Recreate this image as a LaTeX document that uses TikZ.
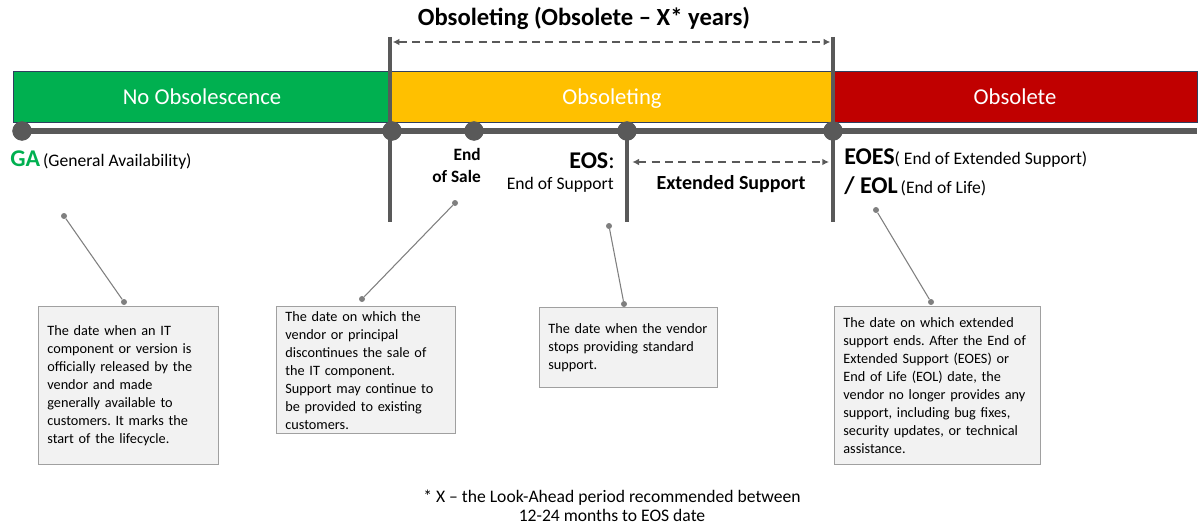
\documentclass[tikz,border=0pt]{standalone}
\usepackage{fontspec}
\setmainfont{Carlito}
\usetikzlibrary{arrows.meta}

\definecolor{nogreen}{HTML}{00B050}
\definecolor{obsyellow}{HTML}{FFC000}
\definecolor{obsred}{HTML}{C00000}
\definecolor{linegray}{HTML}{595959}
\definecolor{pingray}{HTML}{7F7F7F}
\definecolor{boxfill}{HTML}{F2F2F2}
\definecolor{boxline}{HTML}{A0A0A0}
\definecolor{barline}{HTML}{2F3F5F}

\tikzset{
  phase/.style={draw=barline, line width=0.5pt},
  phasetext/.style={text=white, anchor=base, font=\fontsize{17}{20}\selectfont},
  timeline/.style={linegray, line width=4.5pt},
  boundary/.style={linegray, line width=3pt},
  milestone/.style={circle, fill=linegray, inner sep=0pt, minimum size=14.5pt},
  span/.style={linegray, line width=1.5pt, dash pattern=on 6pt off 4pt, {Latex[length=5pt,width=5pt]}-{Latex[length=5pt,width=5pt]}},
  calldot/.style={circle, fill=pingray, inner sep=0pt, minimum size=4.5pt},
  callline/.style={pingray, line width=0.8pt},
  infobox/.style={draw=boxline, fill=boxfill, line width=1pt, anchor=north west, align=left,
    inner xsep=6.5pt, font=\fontsize{10.7}{13.5}\selectfont},
  smalltext/.style={font=\fontsize{13.2}{16}\selectfont},
}
\newcommand{\bigbold}{\bfseries\fontsize{18}{21}\selectfont}
\newcommand{\labelsize}{\mdseries\fontsize{13.2}{16}\selectfont}

\begin{document}
\frenchspacing
\hyphenpenalty=10000
\exhyphenpenalty=10000
\begin{tikzpicture}[x=0.75pt, y=-0.75pt]
  \useasboundingbox (0,0) rectangle (1201,528);

  % phase bars
  \path[phase, fill=nogreen] (13,71) rectangle (390,122);
  \path[phase, fill=obsyellow] (390,71) rectangle (833,122);
  \path[phase, fill=obsred] (833,71) rectangle (1197,122);
  \node[phasetext] (noobs) at (202,104) {No Obsolescence};
  \node[phasetext] (obsing) at (612,104) {Obsoleting};
  \node[phasetext] (obs) at (1015,104) {Obsolete};

  % window above the bars
  \node[font=\bfseries\fontsize{18.5}{22}\selectfont] (title) at (584,18) {Obsoleting (Obsolete -- X* years)};
  \coordinate (obsTop) at (390,37);
  \coordinate (obsBot) at (390,222);
  \coordinate (eoesTop) at (833,37);
  \coordinate (eoesBot) at (833,222);
  \coordinate (eosBot) at (627,222);
  \coordinate (winL) at (390,42);
  \coordinate (winR) at (833,42);
  \draw[boundary] (obsTop) -- (obsBot);
  \draw[boundary] (eoesTop) -- (eoesBot);
  \draw[span, shorten <=2pt, shorten >=2pt] (winL) -- (winR);

  % timeline and milestones
  \coordinate (tend) at (1197,131);
  \node[milestone] (ga) at (22,131) {};
  \node[milestone] (start) at (392,131) {};
  \node[milestone] (eosale) at (474,131) {};
  \node[milestone] (eos) at (627,131) {};
  \node[milestone] (eoes) at (833,131) {};
  \draw[timeline] (ga.center) -- (tend);
  \foreach \m in {ga, start, eosale, eos, eoes}
    \fill[linegray] (\m) circle[radius=9.5];
  \draw[boundary] (eos.center) -- (eosBot);

  % milestone labels
  \node[anchor=west, inner sep=0pt] (galbl) at (10,160)
    {{\color{nogreen}\bigbold GA} {\labelsize(General Availability)}};
  \node[anchor=north east, align=right, inner sep=0pt, font=\bfseries\fontsize{13}{16.5}\selectfont] (salelbl) at (481,148)
    {End\\of Sale};
  \node[anchor=east, inner sep=0pt] (eoslbl) at (615,161)
    {{\bigbold EOS}{\fontsize{18}{21}\selectfont:}};
  \node[anchor=east, inner sep=0pt, smalltext] (eosfull) at (614,185) {End of Support};
  \coordinate (extL) at (627,162);
  \coordinate (extR) at (833,162);
  \draw[span, shorten <=4pt, shorten >=3pt] (extL) -- (extR);
  \node[font=\bfseries\fontsize{15}{18}\selectfont] (extlbl) at (731,184) {Extended Support};
  \node[anchor=west, inner sep=0pt] (eoeslbl) at (844,158)
    {{\bigbold EOES}{\labelsize( End of Extended Support)}};
  \node[anchor=west, inner sep=0pt] (eollbl) at (844,186)
    {{\bigbold / EOL} {\labelsize(End of Life)}};

  % description boxes
  \node[infobox, text width=122pt, minimum height=118.5pt] (gabox) at (38,306)
    {The date when an IT\\component or version is\\officially released by the\\vendor and made\\generally available to\\customers. It marks the\\start of the lifecycle.};
  \node[infobox, text width=121.25pt, minimum height=88.5pt] (salebox) at (276,306)
    {The date on which the\\vendor or principal\\discontinues the sale of\\the IT component.\\Support may continue to\\be provided to existing\\customers.};
  \node[infobox, text width=120.5pt, minimum height=60pt] (eosbox) at (539,307)
    {The date when the vendor\\stops providing standard\\support.};
  \node[infobox, text width=141.5pt, minimum height=118.5pt] (eoesbox) at (834,306)
    {The date on which extended\\support ends. After the End of\\Extended Support (EOES) or\\End of Life (EOL) date, the\\vendor no longer provides any\\support, including bug fixes,\\security updates, or technical\\assistance.};

  % callout pins
  \node[calldot] (gapin) at (64,216) {};
  \node[calldot] (gahook) at (124,302) {};
  \node[calldot] (salepin) at (455,203) {};
  \node[calldot] (salehook) at (362,299) {};
  \node[calldot] (eospin) at (609,226) {};
  \node[calldot] (eoshook) at (624,304) {};
  \node[calldot] (eoespin) at (876,210) {};
  \node[calldot] (eoeshook) at (931,302) {};
  \draw[callline] (gapin) -- (gahook);
  \draw[callline] (salepin) -- (salehook);
  \draw[callline] (eospin) -- (eoshook);
  \draw[callline] (eoespin) -- (eoeshook);

  % footnote
  \node[align=center, font=\fontsize{13.2}{14.5}\selectfont] (note) at (612,506)
    {* X -- the Look-Ahead period recommended between\\12-24 months to EOS date};
\end{tikzpicture}
\end{document}
